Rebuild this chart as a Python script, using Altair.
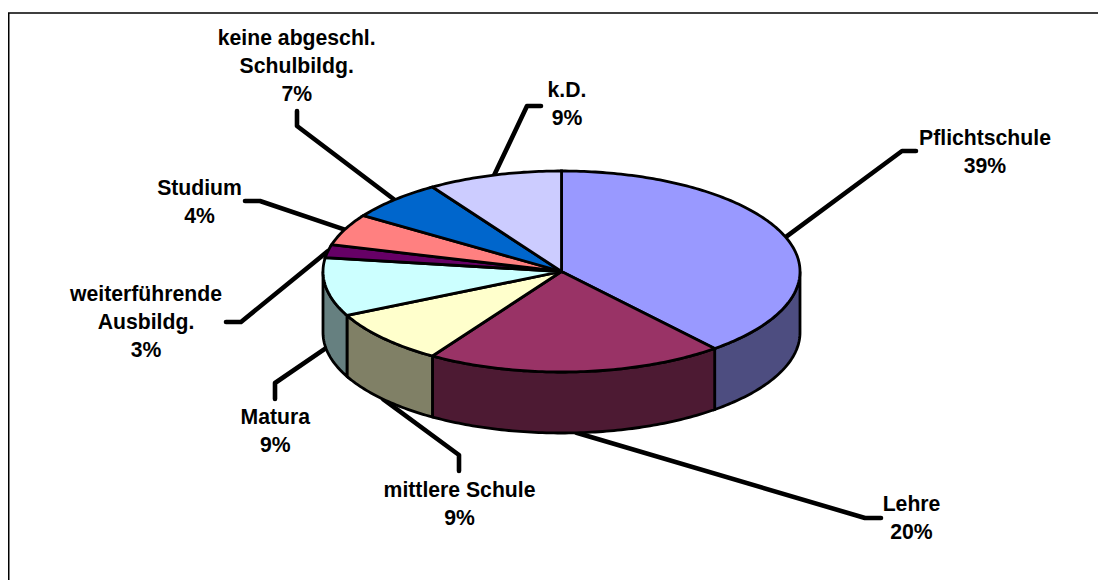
import math
import altair as alt

names = ["Pflichtschule", "Lehre", "mittlere Schule", "Matura", "weiterführende Ausbildg.",
         "Studium", "keine abgeschl. Schulbildg.", "k.D."]
shares = [38.9, 20.2, 8.7, 9.4, 2.1, 5.1, 6.5, 9.1]
top_colors = ["#9999FF", "#993366", "#FFFFCC", "#CCFFFF", "#660066", "#FF8080", "#0066CC", "#CCCCFF"]
side_colors = ["#4D4D80", "#4D1A33", "#808066", "#668080", "#330033", "#804040", "#003366", "#666680"]
label_lines = [["Pflichtschule", "39%"], ["Lehre", "20%"], ["mittlere Schule", "9%"], ["Matura", "9%"],
               ["weiterführende", "Ausbildg.", "3%"], ["Studium", "4%"],
               ["keine abgeschl.", "Schulbildg.", "7%"], ["k.D.", "9%"]]
label_x = [985, 911.5, 459.5, 275.3, 146, 199.5, 296.7, 567]
label_y = [138.5, 505, 490.5, 418, 295, 188.5, 38.5, 91]
elbows = [[(902, 151), (916, 151)], [(865, 518), (881, 518)], [(459, 455), (459, 471)],
          [(275, 383), (275, 399)], [(241, 322), (226, 322)], [(260, 201), (245, 201)],
          [(297, 126), (297, 111)], [(527, 106), (541, 106)]]

OX, OY = 8, 8
CX, CY, RX, RY, DEPTH = 561.5 - OX, 271.5 - OY, 238.5, 100.5, 61
LINE_GAP = 28


def pt(pct, dy=0):
    a = math.radians(pct * 3.6)
    return [CX + RX * math.sin(a), CY - RY * math.cos(a) + dy]


def arc(p0, p1, dy=0):
    n = max(2, int(abs(p1 - p0) * 4))
    return [pt(p0 + (p1 - p0) * i / n, dy) for i in range(n + 1)]


def poly(ring, fill):
    return {"type": "Feature", "properties": {"fill": fill},
            "geometry": {"type": "Polygon", "coordinates": [ring + [ring[0]]]}}


def line(coords):
    return {"type": "Feature", "properties": {},
            "geometry": {"type": "LineString", "coordinates": coords}}


sides, tops, leaders, texts = [], [], [], []
start = 0.0
for i, share in enumerate(shares):
    end = start + share
    lo, hi = max(start, 25.0), min(end, 75.0)
    if hi > lo:
        sides.append(poly(arc(lo, hi) + arc(hi, lo, DEPTH), side_colors[i]))
    tops.append(poly([[CX, CY]] + arc(start, end), top_colors[i]))
    mid = (start + end) / 2
    anchor = pt(mid, DEPTH if 25 < mid < 75 else 0)
    leaders.append(line([anchor] + [[x - OX, y - OY] for x, y in elbows[i]]))
    for j, txt in enumerate(label_lines[i]):
        texts.append({"t": txt, "lon": label_x[i] - OX, "lat": label_y[i] - OY + j * LINE_GAP})
    start = end

frame = [line([[0.75, 580], [0.75, 5], [1098, 5]])]
proj = dict(type="identity", scale=1, translate=[0, 0])

side_layer = alt.Chart(alt.Data(values=sides)).mark_geoshape(stroke="black", strokeWidth=2.8).encode(
    fill=alt.Fill("properties.fill:N", scale=None)).project(**proj)
top_layer = alt.Chart(alt.Data(values=tops)).mark_geoshape(stroke="black", strokeWidth=2.8).encode(
    fill=alt.Fill("properties.fill:N", scale=None)).project(**proj)
leader_layer = alt.Chart(alt.Data(values=leaders)).mark_geoshape(
    filled=False, stroke="black", strokeWidth=4.6, strokeCap="round", strokeJoin="round").project(**proj)
frame_layer = alt.Chart(alt.Data(values=frame)).mark_geoshape(
    filled=False, stroke="black", strokeWidth=1.5).project(**proj)
text_layer = alt.Chart(alt.Data(values=texts)).mark_text(
    font="Liberation Sans", fontWeight="bold", fontSize=21.2, color="black", align="center", baseline="middle"
).encode(longitude="lon:Q", latitude="lat:Q", text="t:N").project(**proj)

chart = alt.layer(frame_layer, leader_layer, side_layer, top_layer, text_layer).properties(
    width=1090, height=572, padding=0, autosize=alt.AutoSizeParams(type="none"),
    background="white"
).configure_view(stroke=None)

chart.save("out.html", embed_options={"renderer": "svg", "actions": False})
